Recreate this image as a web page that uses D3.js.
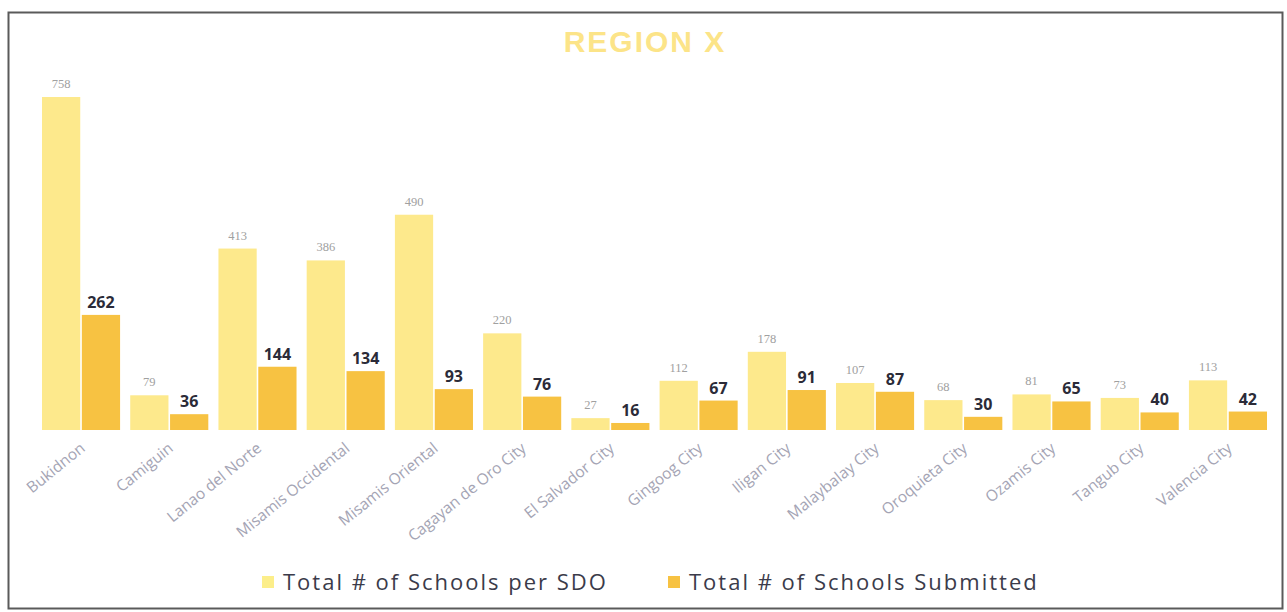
<!DOCTYPE html>
<html>
<head>
<meta charset="utf-8">
<script src="https://cdn.jsdelivr.net/npm/d3@7"></script>
<style>
  body { margin: 0; background: #fff; }
  svg { display: block; }
</style>
</head>
<body>
<div id="chart"></div>
<script>
const divisions = [
  "Bukidnon", "Camiguin", "Lanao del Norte", "Misamis Occidental",
  "Misamis Oriental", "Cagayan de Oro City", "El Salvador City",
  "Gingoog City", "Iligan City", "Malaybalay City", "Oroquieta City",
  "Ozamis City", "Tangub City", "Valencia City"
];
const totalSchools = [758, 79, 413, 386, 490, 220, 27, 112, 178, 107, 68, 81, 73, 113];
const schoolsSubmitted = [262, 36, 144, 134, 93, 76, 16, 67, 91, 87, 30, 65, 40, 42];
const seriesNames = ["Total # of Schools per SDO", "Total # of Schools Submitted"];

const width = 1287;
const height = 612;
const baseline = 430;

const sdoColor = "#fde98c";
const subColor = "#f7c242";

const svg = d3.select("#chart")
  .append("svg")
  .attr("width", width)
  .attr("height", height);

// frame
svg.append("rect")
  .attr("x", 8.5)
  .attr("y", 12.5)
  .attr("width", 1274)
  .attr("height", 596)
  .attr("fill", "none")
  .attr("stroke", "#5a5a5a")
  .attr("stroke-width", 2);

// title
svg.append("text")
  .attr("x", 645)
  .attr("y", 52)
  .attr("text-anchor", "middle")
  .style("font-family", "Liberation Sans, Arial, sans-serif")
  .style("font-weight", "bold")
  .style("font-size", "30px")
  .style("letter-spacing", "2px")
  .attr("fill", "#fce488")
  .text("REGION X");

const x0 = d3.scaleBand()
  .domain(divisions)
  .range([42, 1267])
  .paddingInner(0.115)
  .paddingOuter(0);

const x1 = d3.scaleBand()
  .domain([0, 1])
  .range([0, x0.bandwidth()])
  .paddingInner(0.04);

const y = d3.scaleLinear()
  .domain([0, 758])
  .range([baseline, 97]);

const groups = svg.append("g")
  .selectAll("g")
  .data(divisions)
  .join("g")
  .attr("transform", (d) => `translate(${x0(d)},0)`);

// SDO bars
groups.append("rect")
  .attr("x", x1(0))
  .attr("y", (d, i) => y(totalSchools[i]))
  .attr("width", x1.bandwidth())
  .attr("height", (d, i) => baseline - y(totalSchools[i]))
  .attr("fill", sdoColor);

// Submitted bars
groups.append("rect")
  .attr("x", x1(1))
  .attr("y", (d, i) => y(schoolsSubmitted[i]))
  .attr("width", x1.bandwidth())
  .attr("height", (d, i) => baseline - y(schoolsSubmitted[i]))
  .attr("fill", subColor);

// value labels
groups.append("text")
  .attr("x", x1(0) + x1.bandwidth() / 2)
  .attr("y", (d, i) => y(totalSchools[i]) - 9)
  .attr("text-anchor", "middle")
  .style("font-family", "Liberation Serif, serif")
  .style("font-size", "12.5px")
  .attr("fill", "#a0a0a0")
  .text((d, i) => totalSchools[i]);

groups.append("text")
  .attr("x", x1(1) + x1.bandwidth() / 2)
  .attr("y", (d, i) => y(schoolsSubmitted[i]) - 7)
  .attr("text-anchor", "middle")
  .style("font-family", "Open Sans, sans-serif")
  .style("font-weight", "bold")
  .style("font-size", "16px")
  .attr("fill", "#2b2b38")
  .text((d, i) => schoolsSubmitted[i]);

// category axis labels
svg.append("g")
  .selectAll("text")
  .data(divisions)
  .join("text")
  .attr("transform", (d) => `translate(${x0(d) + x0.bandwidth() / 2 + 5},${baseline + 20}) rotate(-39)`)
  .attr("text-anchor", "end")
  .style("font-family", "Open Sans, sans-serif")
  .style("font-size", "15.5px")
  .attr("fill", "#a4a4b4")
  .text((d) => d);

// legend
const legendX = [262, 668];
const legend = svg.append("g")
  .selectAll("g")
  .data(seriesNames)
  .join("g")
  .attr("transform", (d, i) => `translate(${legendX[i]},582)`);

legend.append("rect")
  .attr("x", 0)
  .attr("y", -6)
  .attr("width", 12)
  .attr("height", 12)
  .attr("fill", (d, i) => (i === 0 ? "#fcee8a" : subColor));

legend.append("text")
  .attr("x", 21)
  .attr("y", 8)
  .style("font-family", "Open Sans, sans-serif")
  .style("font-size", "22px")
  .style("letter-spacing", "2px")
  .attr("fill", "#3b3b4a")
  .text((d) => d);
</script>
</body>
</html>
